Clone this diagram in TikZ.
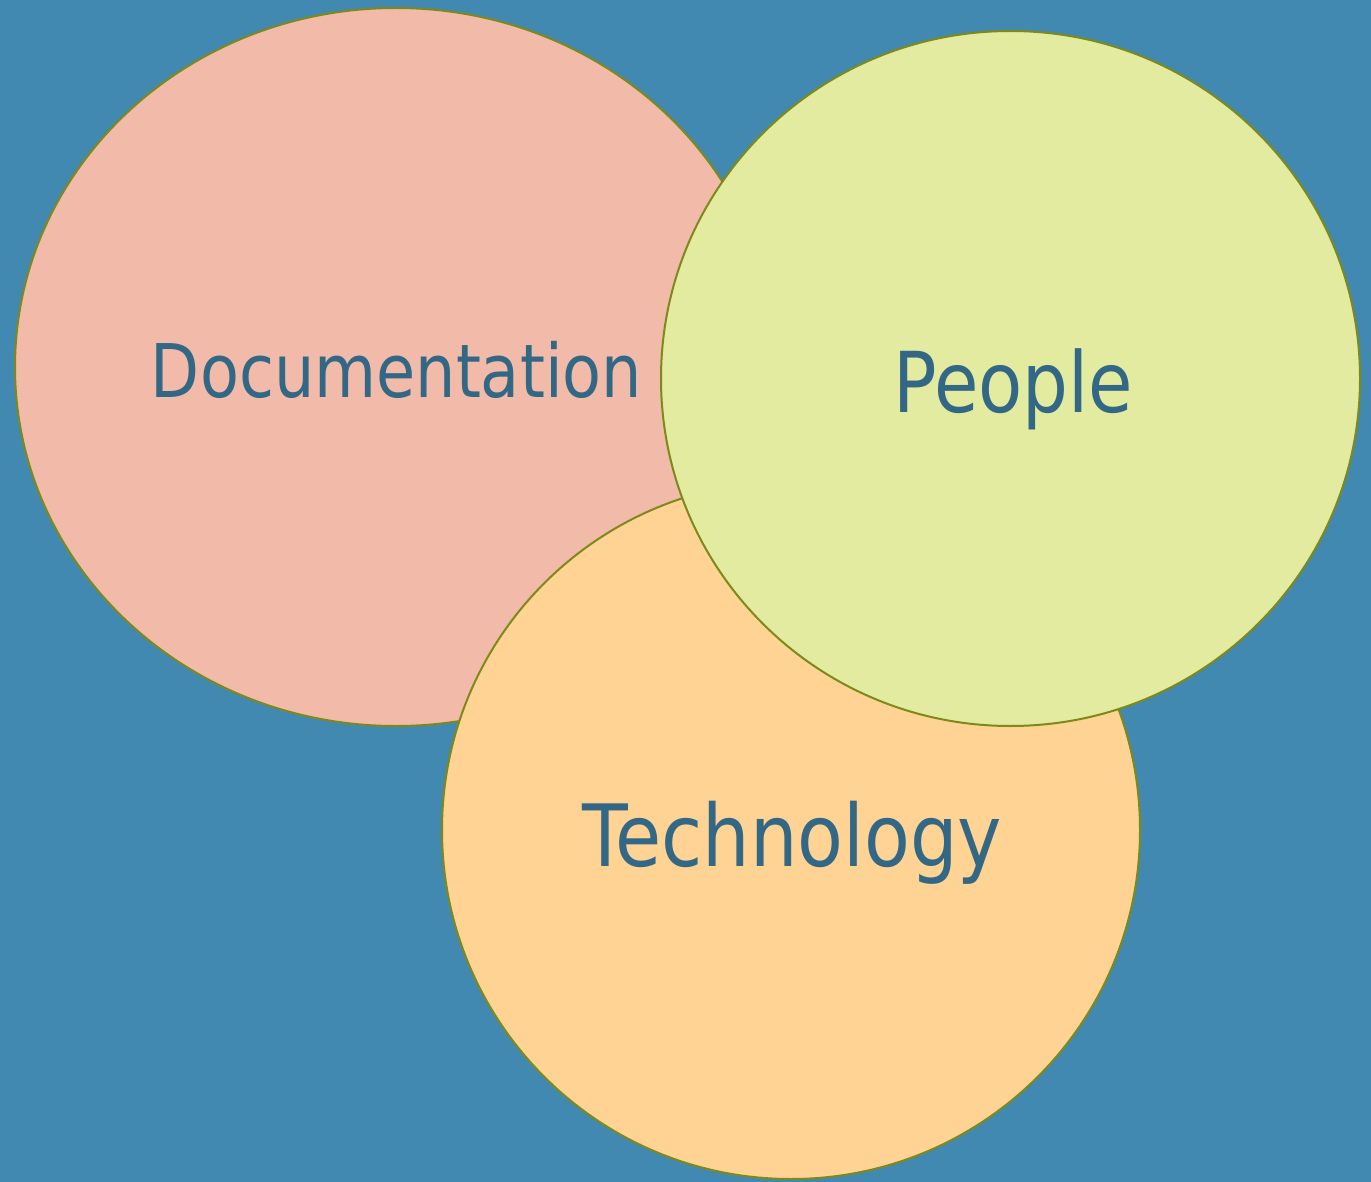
\documentclass[tikz,border=0pt]{standalone}
\usepackage{fontspec}
\setmainfont{DejaVu Sans}
\usetikzlibrary{shapes.geometric}
\definecolor{bgblue}{HTML}{4289B2}
\definecolor{docfill}{HTML}{F1BAA9}
\definecolor{peoplefill}{HTML}{E2EB9F}
\definecolor{techfill}{HTML}{FED394}
\definecolor{rimolive}{HTML}{7D8A1A}
\definecolor{labelblue}{HTML}{326885}
% stretch a label horizontally to a given width, keeping its height
\newcommand{\fitlabel}[3]{\resizebox{#1}{\height}{\fontsize{#2}{#2}\selectfont #3}}
\begin{document}
\begin{tikzpicture}[x=1pt,y=-1pt,
  setcircle/.style={ellipse, draw=rimolive, line width=2pt, inner sep=0pt},
  setlabel/.style={anchor=base, inner sep=0pt, text=labelblue}]
  \fill[bgblue] (0,0) rectangle (1371,1182);
  \useasboundingbox (0,0) rectangle (1371,1182);
  \node[setcircle, fill=docfill, minimum width=762pt, minimum height=718pt] (doc) at (396,367) {};
  \node[setcircle, fill=techfill, minimum width=698pt, minimum height=698pt] (tech) at (791,830) {};
  \node[setcircle, fill=peoplefill, minimum width=699pt, minimum height=695pt] (people) at (1010.5,378.5) {};
  \node[setlabel] (doclabel) at (396.5,397) {\fitlabel{491pt}{74}{Documentation}};
  \node[setlabel] (peoplelabel) at (1013,412) {\fitlabel{240pt}{84}{People}};
  \node[setlabel] (techlabel) at (792,866) {\fitlabel{420pt}{86}{Technology}};
\end{tikzpicture}
\end{document}
